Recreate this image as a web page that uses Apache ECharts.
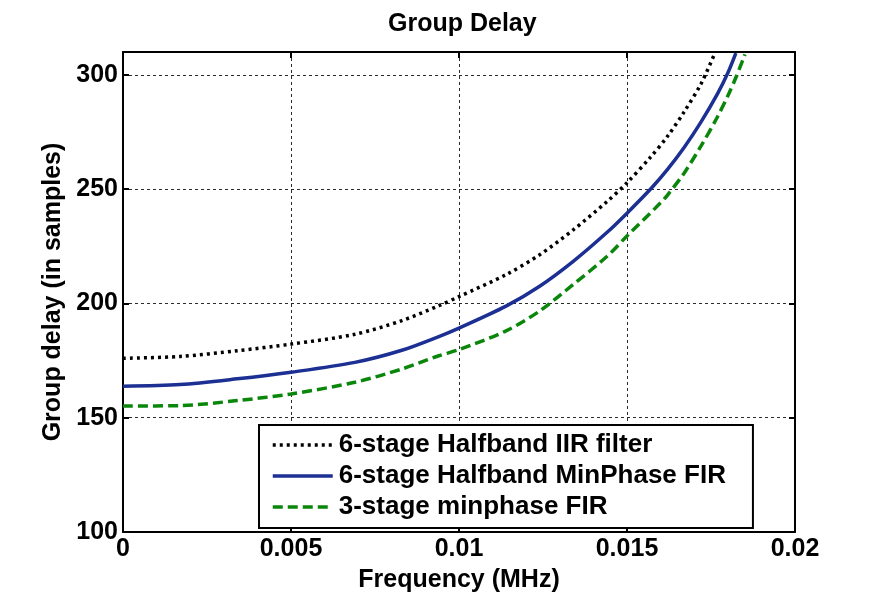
<!DOCTYPE html>
<html>
<head>
<meta charset="utf-8">
<script src="https://cdn.jsdelivr.net/npm/echarts@6/dist/echarts.min.js"></script>
<style>
  html, body { margin: 0; padding: 0; background: #ffffff; }
  #chart { width: 881px; height: 598px; }
</style>
</head>
<body>
<div id="chart"></div>
<script>
// Group delay (samples) versus frequency (MHz) for three decimation filter designs
const seriesNames = [
  '6-stage Halfband IIR filter',
  '6-stage Halfband MinPhase FIR',
  '3-stage minphase FIR'
];

const iirFreq = [0, 0.0017, 0.0034, 0.005, 0.0069, 0.0083, 0.0094, 0.0100, 0.0114, 0.0124,
                 0.0134, 0.0144, 0.0150, 0.0157, 0.0162, 0.0167, 0.0172, 0.0176];
const iirDelay = [176.0, 176.8, 179.3, 182.2, 186.5, 192.5, 199.0, 203.0, 212.6, 221.3,
                  232.2, 244.5, 252.8, 264.0, 273.0, 283.8, 296.0, 309.0];

const mpFreq = [0, 0.0017, 0.0034, 0.005, 0.0069, 0.0083, 0.0094, 0.0100, 0.0114, 0.0124,
                0.0134, 0.0144, 0.0150, 0.01573, 0.0162, 0.0167, 0.0172, 0.0177, 0.0180, 0.01824];
const mpDelay = [163.8, 164.5, 167.0, 169.9, 174.2, 179.5, 185.5, 189.2, 198.8, 207.5,
                 218.4, 231.0, 239.5, 250.5, 258.5, 268.2, 279.3, 291.9, 300.8, 309.5];

const fir3Freq = [0, 0.0017, 0.0034, 0.005, 0.0069, 0.0083, 0.0094, 0.0100, 0.0114, 0.0124,
                  0.0134, 0.0144, 0.0150, 0.0160, 0.0162, 0.0167, 0.0172, 0.01767, 0.0180, 0.01826, 0.01851];
const fir3Delay = [155.1, 155.3, 157.5, 160.4, 165.5, 171.3, 177.1, 179.8, 188.0, 196.7,
                   208.3, 220.5, 229.5, 244.0, 247.3, 257.0, 268.8, 281.0, 290.8, 299.5, 309.0];

const xTicks = [0, 0.005, 0.01, 0.015, 0.02];
const yTicks = [100, 150, 200, 250, 300];

const FONT = '"Liberation Sans", Arial, sans-serif';

function pairs(xs, ys) {
  return xs.map((x, i) => [x, ys[i]]);
}

const gridLine = { show: true, lineStyle: { color: '#2a2a2a', width: 1, type: [3, 3] } };
const frameLine = { show: true, onZero: false, lineStyle: { color: '#000', width: 2 } };
const frameTick = { show: true, inside: true, length: 6, lineStyle: { color: '#000', width: 2 } };

const chart = echarts.init(document.getElementById('chart'), null, { renderer: 'canvas' });

chart.setOption({
  animation: false,
  backgroundColor: '#ffffff',
  title: {
    text: 'Group Delay',
    left: 383,
    top: 7,
    textStyle: { fontFamily: FONT, fontWeight: 'bold', fontSize: 25, color: '#000' }
  },
  grid: { left: 123, right: 86, top: 52, bottom: 64, containLabel: false },
  legend: {
    orient: 'vertical',
    left: 259,
    top: 425,
    padding: [7, 27, 8, 12],
    itemWidth: 60,
    itemHeight: 14,
    itemGap: 5,
    backgroundColor: '#ffffff',
    borderColor: '#000',
    borderWidth: 2,
    borderRadius: 0,
    data: seriesNames,
    itemStyle: { opacity: 0 },
    lineStyle: { width: 3.5 },
    textStyle: { fontFamily: FONT, fontWeight: 'bold', fontSize: 26, lineHeight: 26, color: '#000', padding: [0, 0, 0, 1] }
  },
  xAxis: [
    {
      type: 'value',
      min: xTicks[0],
      max: xTicks[xTicks.length - 1],
      interval: 0.005,
      position: 'bottom',
      name: 'Frequency (MHz)',
      nameLocation: 'middle',
      nameGap: 36,
      nameTextStyle: { fontFamily: FONT, fontWeight: 'bold', fontSize: 25, color: '#000' },
      axisLine: frameLine,
      axisTick: frameTick,
      axisLabel: {
        margin: 5,
        fontFamily: FONT, fontWeight: 'bold', fontSize: 25, color: '#000',
        formatter: v => String(v)
      },
      splitLine: gridLine
    },
    {
      type: 'value',
      min: xTicks[0],
      max: xTicks[xTicks.length - 1],
      interval: 0.005,
      position: 'top',
      axisLine: frameLine,
      axisTick: frameTick,
      axisLabel: { show: false },
      splitLine: { show: false }
    }
  ],
  yAxis: [
    {
      type: 'value',
      min: 100,
      max: 310,
      interval: 50,
      position: 'left',
      name: 'Group delay (in samples)',
      nameLocation: 'middle',
      nameGap: 49,
      nameTextStyle: { fontFamily: FONT, fontWeight: 'bold', fontSize: 25, color: '#000' },
      axisLine: frameLine,
      axisTick: frameTick,
      axisLabel: {
        margin: 5,
        fontFamily: FONT, fontWeight: 'bold', fontSize: 25, color: '#000',
        formatter: v => (yTicks.indexOf(v) >= 0 ? String(v) : '')
      },
      splitLine: gridLine
    },
    {
      type: 'value',
      min: 100,
      max: 310,
      interval: 50,
      position: 'right',
      axisLine: frameLine,
      axisTick: frameTick,
      axisLabel: { show: false },
      splitLine: { show: false }
    }
  ],
  series: [
    {
      name: seriesNames[0],
      type: 'line',
      xAxisIndex: 0, yAxisIndex: 0,
      smooth: 0.3,
      symbol: 'none',
      z: 3,
      data: pairs(iirFreq, iirDelay),
      itemStyle: { color: '#000000' },
      lineStyle: { color: '#000000', width: 3.5, type: [3, 4] }
    },
    {
      name: seriesNames[1],
      type: 'line',
      xAxisIndex: 0, yAxisIndex: 0,
      smooth: 0.3,
      symbol: 'none',
      z: 3,
      data: pairs(mpFreq, mpDelay),
      itemStyle: { color: '#1c2f93' },
      lineStyle: { color: '#1c2f93', width: 3.5, type: 'solid' }
    },
    {
      name: seriesNames[2],
      type: 'line',
      xAxisIndex: 0, yAxisIndex: 0,
      smooth: 0.3,
      symbol: 'none',
      z: 3,
      data: pairs(fir3Freq, fir3Delay),
      itemStyle: { color: '#0a870a' },
      lineStyle: { color: '#0a870a', width: 3.5, type: [10, 5] }
    }
  ]
});
</script>
</body>
</html>
